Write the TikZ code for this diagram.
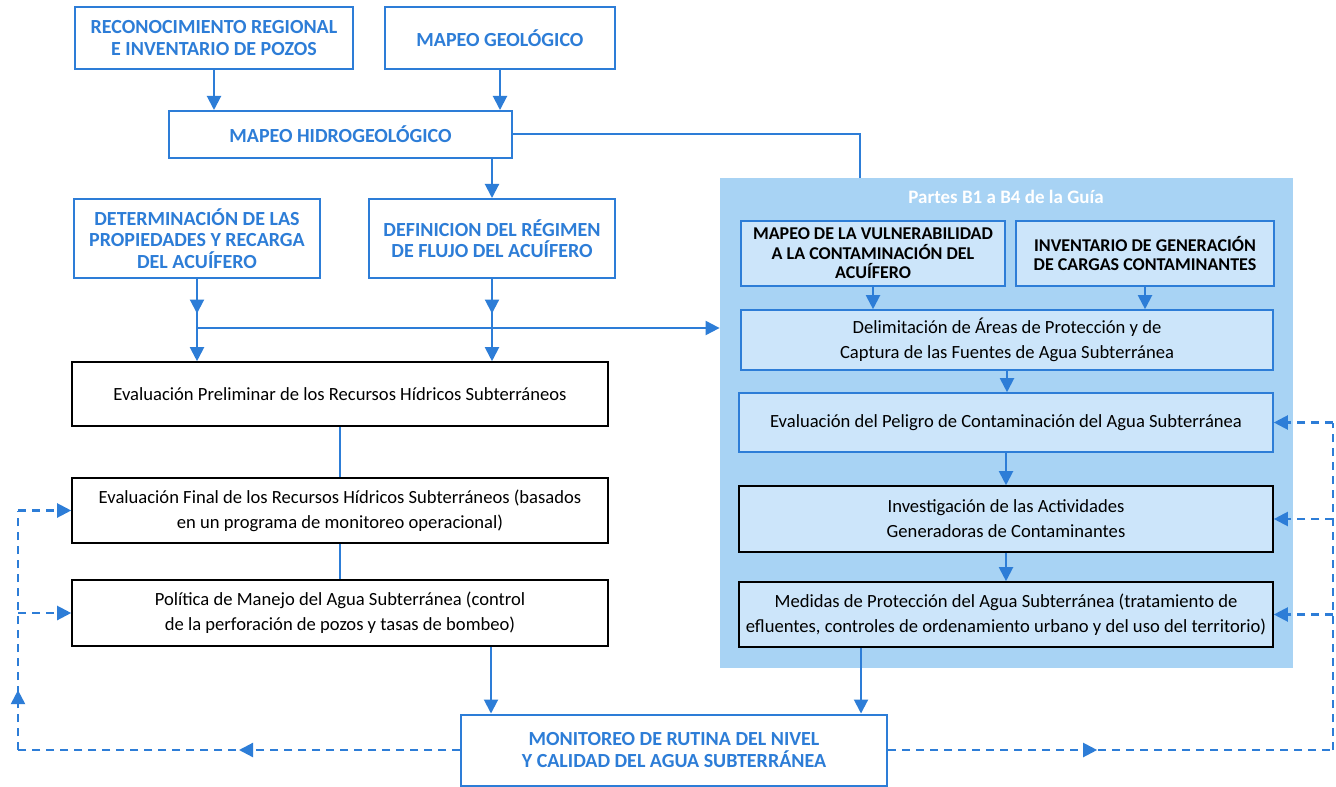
\documentclass[tikz,border=0pt]{standalone}
\usepackage{fontspec}
\setmainfont{Carlito}
\usepackage{tikz}
\usetikzlibrary{arrows.meta,positioning,decorations.markings}
\definecolor{flowblue}{RGB}{45,125,215}
\definecolor{panelblue}{RGB}{168,211,244}
\definecolor{innerblue}{RGB}{204,229,250}

\begin{document}
\begin{tikzpicture}[x=0.5pt, y=-0.5pt, >={Triangle[length=7pt,width=7pt]},
                        capbox/.style={draw=flowblue, line width=1pt, fill=white, text=flowblue, align=center, inner sep=0pt, font=\bfseries\fontsize{10}{10.6}\selectfont},
                        textbox/.style={draw=black, line width=0.8pt, fill=white, align=center, inner sep=0pt, font=\fontsize{9.3}{12.5}\selectfont},
                        guidebox/.style={draw=flowblue, line width=0.8pt, fill=innerblue, align=center, inner sep=0pt, font=\fontsize{9.3}{12.5}\selectfont},
                        guidecaps/.style={guidebox, font=\bfseries\fontsize{9}{9.8}\selectfont},
                        flowline/.style={flowblue, line width=1pt},
                        dashline/.style={flowline, line width=1.1pt, dash pattern=on 4pt off 3pt},
                        midarrow/.style={postaction={decorate}, decoration={markings, mark=at position #1 with {\arrow{>}}}}]

    \fill[white] (0,0) rectangle (1336,786);
    \useasboundingbox (0,0) rectangle (1336,786);

    \node[capbox, minimum width=139pt, minimum height=31pt] (reconoc) at (214,38) {RECONOCIMIENTO REGIONAL\\E INVENTARIO DE POZOS};
    \node[capbox, minimum width=115pt, minimum height=31pt] (geolog) at (500,38) {MAPEO GEOLÓGICO};
    \node[capbox, minimum width=171.5pt, minimum height=23.5pt] (hidro) at (340.5,134.5) {MAPEO HIDROGEOLÓGICO};
    \node[capbox, minimum width=123pt, minimum height=39.5pt] (propied) at (197,238.5) {DETERMINACIÓN DE LAS\\PROPIEDADES Y RECARGA\\DEL ACUÍFERO};
    \node[capbox, minimum width=123pt, minimum height=39.5pt] (regimen) at (492,238.5) {DEFINICION DEL RÉGIMEN\\DE FLUJO DEL ACUÍFERO};
    \node[textbox, minimum width=268pt, minimum height=32pt] (prelim) at (340,394) {Evaluación Preliminar de los Recursos Hídricos Subterráneos};
    \node[textbox, minimum width=268pt, minimum height=32.5pt] (final) at (340,510.5) {Evaluación Final de los Recursos Hídricos Subterráneos (basados\\en un programa de monitoreo operacional)};
    \node[textbox, minimum width=268pt, minimum height=33pt] (politica) at (340,613) {Política de Manejo del Agua Subterránea (control\\de la perforación de pozos y tasas de bombeo)};
    \node[capbox, minimum width=213pt, minimum height=35.5pt] (monitoreo) at (674,750) {MONITOREO DE RUTINA DEL NIVEL\\Y CALIDAD DEL AGUA SUBTERRÁNEA};

    \node[fill=panelblue, minimum width=286.5pt, minimum height=245pt, inner sep=0pt] (panel) at (1006.5,423) {};
    \node[text=white, font=\bfseries\fontsize{9.5}{10}\selectfont] (guia) at (1006,197) {Partes B1 a B4 de la Guía};
    \node[guidecaps, minimum width=132pt, minimum height=32.5pt] (vulner) at (873,253.5) {MAPEO DE LA VULNERABILIDAD\\A LA CONTAMINACIÓN DEL\\ACUÍFERO};
    \node[guidecaps, minimum width=129pt, minimum height=32.5pt] (cargas) at (1145,253.5) {INVENTARIO DE GENERACIÓN\\DE CARGAS CONTAMINANTES};
    \node[guidebox, minimum width=266pt, minimum height=30pt] (delim) at (1007,340) {Delimitación de Áreas de Protección y de\\Captura de las Fuentes de Agua Subterránea};
    \node[guidebox, minimum width=267pt, minimum height=29.5pt] (peligro) at (1006,422.5) {Evaluación del Peligro de Contaminación del Agua Subterránea};
    \node[guidebox, draw=black, minimum width=267pt, minimum height=33pt] (investig) at (1006,519) {Investigación de las Actividades\\Generadoras de Contaminantes};
    \node[guidebox, draw=black, minimum width=267pt, minimum height=32.5pt] (medidas) at (1006,614.5) {Medidas de Protección del Agua Subterránea (tratamiento de\\efluentes, controles de ordenamiento urbano y del uso del territorio)};

    \coordinate (guiajoin) at (panel.north -| 860,0);
    \coordinate (split) at (propied.south |- 0,328);
    \coordinate (lcorner) at (monitoreo.west -| 18,0);
    \coordinate (rcorner) at (monitoreo.east -| 1333,0);

    \draw[flowline,->] (reconoc.south) -- (reconoc.south |- hidro.north);
    \draw[flowline,->] (geolog.south) -- (geolog.south |- hidro.north);
    \draw[flowline,->] (regimen.north |- hidro.south) -- (regimen.north);
    \draw[flowline] (hidro.east) -| (guiajoin);
    \draw[flowline,->,midarrow=0.42] (propied.south) -- (propied.south |- prelim.north);
    \draw[flowline,->,midarrow=0.42] (regimen.south) -- (regimen.south |- prelim.north);
    \draw[flowline,->] (split) -- (split -| panel.west);
    \draw[flowline] (prelim.south) -- (final.north);
    \draw[flowline] (final.south) -- (politica.north);
    \draw[flowline,->] ([xshift=75.5pt]politica.south) -- ([xshift=75.5pt]politica.south |- monitoreo.north);
    \draw[flowline,->] (vulner.south) -- (vulner.south |- delim.north);
    \draw[flowline,->] (cargas.south) -- (cargas.south |- delim.north);
    \draw[flowline,->] (delim.south) -- (delim.south |- peligro.north);
    \draw[flowline,->] (peligro.south) -- (investig.north);
    \draw[flowline,->] (investig.south) -- (medidas.north);
    \draw[flowline,->] ([xshift=-72.5pt]medidas.south) -- ([xshift=-72.5pt]medidas.south |- monitoreo.north);

    \draw[dashline,midarrow=0.5] (monitoreo.west) -- (lcorner);
    \draw[dashline,midarrow=0.25] (lcorner) -- (lcorner |- final.west);
    \draw[dashline,->] (lcorner |- final.west) -- (final.west);
    \draw[dashline,->] (lcorner |- politica.west) -- (politica.west);
    \draw[dashline,midarrow=0.47] (monitoreo.east) -- (rcorner);
    \draw[dashline] (rcorner) -- (rcorner |- peligro.east);
    \draw[dashline,->] (rcorner |- peligro.east) -- (peligro.east);
    \draw[dashline,->] (rcorner |- investig.east) -- (investig.east);
    \draw[dashline,->] (rcorner |- medidas.east) -- (medidas.east);
\end{tikzpicture}
\end{document}
